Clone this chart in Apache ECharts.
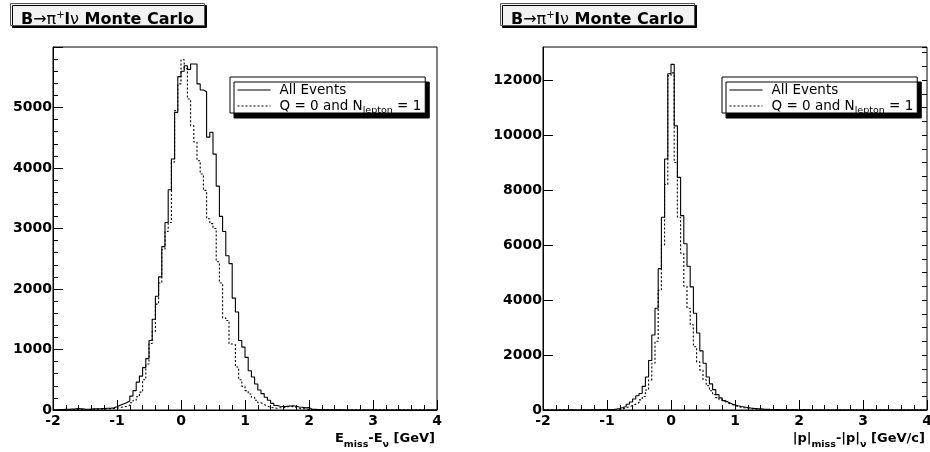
<!DOCTYPE html>
<html>
<head>
<meta charset="utf-8">
<script src="https://cdn.jsdelivr.net/npm/echarts@6/dist/echarts.min.js"></script>
<style>
html,body{margin:0;padding:0;background:#fff;}
#chart{width:930px;height:452px;}
</style>
</head>
<body>
<div id="chart"></div>
<script>
// Histogram binning (120 bins of 0.05 from -2 to 4)
const binLow = -2;
const binWidth = 0.05;

// Left panel: E_miss - E_nu
const eAll = [
  5, 8, 6, 10, 12, 15, 18, 22, 20, 15,
  12, 14, 18, 20, 22, 25, 28, 30, 35, 55,
  80, 100, 120, 150, 230, 320, 460, 560, 700, 850,
  1150, 1500, 1880, 2200, 2700, 3100, 3640, 4150, 4920, 5510,
  5600, 5690, 5630, 5720, 5720, 5390, 5290, 5260, 4510, 4590,
  4230, 3700, 3200, 2950, 2550, 2420, 1850, 1620, 1150, 1040,
  870, 650, 545, 430, 330, 270, 210, 160, 110, 75,
  62, 58, 60, 65, 70, 62, 50, 45, 35, 40,
  12, 10, 8, 6, 5, 4, 3, 3, 2, 2,
  1, 1, 0, 0, 0, 0, 0, 0, 0, 0,
  0, 0, 0, 0, 0, 0, 0, 0, 0, 0,
  0, 0, 0, 0, 0, 0, 0, 0, 0, 0
];
const eQ = [
  0, 0, 2, 3, 5, 5, 8, 10, 8, 6,
  8, 10, 12, 15, 15, 18, 20, 22, 25, 30,
  40, 50, 60, 80, 120, 160, 220, 295, 500, 760,
  1100, 1300, 1750, 2100, 2650, 2950, 3100, 4100, 4950, 5390,
  5790, 5640, 5140, 4700, 4430, 4120, 3900, 3630, 3160, 3080,
  3000, 2450, 2100, 1520, 1480, 1090, 1080, 710, 500, 390,
  320, 265, 210, 160, 120, 90, 65, 45, 35, 30,
  38, 35, 50, 60, 55, 45, 30, 25, 15, 10,
  5, 4, 3, 2, 2, 1, 1, 0, 0, 0,
  0, 0, 0, 0, 0, 0, 0, 0, 0, 0,
  0, 0, 0, 0, 0, 0, 0, 0, 0, 0,
  0, 0, 0, 0, 0, 0, 0, 0, 0, 0
];

// Right panel: |p|_miss - |p|_nu
const pAll = [
  0, 0, 0, 0, 0, 2, 0, 0, 3, 0,
  0, 2, 3, 0, 4, 5, 5, 6, 8, 10,
  15, 20, 35, 55, 90, 130, 210, 290, 400, 520,
  600, 860, 1200, 1800, 2725, 3700, 5140, 7010, 9126, 12230,
  12570, 10333, 8460, 7070, 6047, 5230, 4476, 3520, 2800, 2150,
  1700, 1200, 950, 740, 560, 440, 340, 280, 225, 185,
  155, 128, 108, 90, 72, 60, 50, 42, 32, 28,
  22, 18, 15, 12, 10, 8, 8, 6, 5, 5,
  4, 3, 3, 2, 2, 1, 1, 1, 0, 0,
  0, 0, 0, 0, 0, 0, 0, 0, 0, 0,
  0, 0, 0, 0, 0, 0, 0, 0, 0, 0,
  0, 0, 0, 0, 0, 0, 0, 0, 0, 0
];
const pQ = [
  0, 0, 0, 0, 0, 0, 0, 0, 0, 0,
  0, 0, 0, 0, 0, 2, 3, 4, 5, 6,
  10, 12, 18, 30, 50, 80, 120, 160, 210, 270,
  370, 490, 730, 1095, 1700, 2500, 4355, 6000, 8200, 12150,
  12260, 9000, 7010, 5700, 4500, 3700, 3100, 2300, 1750, 1450,
  1100, 880, 700, 560, 450, 370, 300, 250, 200, 160,
  125, 100, 80, 62, 48, 38, 30, 25, 20, 16,
  12, 10, 8, 8, 6, 5, 4, 4, 3, 2,
  2, 1, 1, 0, 0, 0, 0, 0, 0, 0,
  0, 0, 0, 0, 0, 0, 0, 0, 0, 0,
  0, 0, 0, 0, 0, 0, 0, 0, 0, 0,
  0, 0, 0, 0, 0, 0, 0, 0, 0, 0
];

const seriesNames = ['All Events', 'Q = 0 and N_lepton = 1'];
const xTicks = { min: -2, max: 4, interval: 1 };
const yLeft = { min: 0, max: 6000, interval: 1000 };
const yRight = { min: 0, max: 13200, interval: 2000, minor: 500 };

function histPoints(vals) {
  const pts = vals.map((v, i) => [binLow + i * binWidth, v]);
  pts.push([binLow + vals.length * binWidth, vals[vals.length - 1]]);
  return pts;
}

const FONT = 'DejaVu Sans';
const numRich = { n: { fontFamily: FONT, fontWeight: 'bold', fontSize: 14, color: '#000' } };
const labelStyle = { formatter: v => '{n|' + v + '}', rich: numRich };

function xAxisDef(grid, nameRich) {
  return {
    type: 'value', gridIndex: grid, min: xTicks.min, max: xTicks.max, interval: xTicks.interval,
    axisLine: { show: true, onZero: false, lineStyle: { color: '#000', width: 1 } },
    axisTick: { show: true, inside: true, length: 10, lineStyle: { color: '#000' } },
    minorTick: { show: true, splitNumber: 5, length: 5, lineStyle: { color: '#000' } },
    splitLine: { show: false },
    axisLabel: Object.assign({ margin: 4 }, labelStyle),
    name: nameRich,
    nameLocation: 'end',
    nameGap: -2,
    nameTextStyle: {
      align: 'right', verticalAlign: 'top', padding: [18, 0, 0, 0],
      rich: {
        t: { fontFamily: FONT, fontWeight: 'bold', fontSize: 13, color: '#000' },
        s: { fontFamily: FONT, fontWeight: 'bold', fontSize: 9.5, color: '#000', padding: [12, 0, 0, 0] }
      }
    }
  };
}

const legendRich = {
  t: { fontFamily: FONT, fontSize: 13.5, color: '#000' },
  s: { fontFamily: FONT, fontSize: 9.5, color: '#000', padding: [10, 0, 0, 0] }
};
function legendFmt(name) {
  if (name === seriesNames[1]) return '{t|Q = 0 and N}{s|lepton}{t| = 1}';
  return '{t|' + name + '}';
}
function legendDef(left) {
  return {
    show: true, left: left, top: 77, orient: 'vertical',
    data: seriesNames,
    itemWidth: 33, itemHeight: 14, itemGap: 2,
    padding: [6, 4, -3, 7],
    backgroundColor: '#fff', borderColor: '#000', borderWidth: 1, borderRadius: 0,
    shadowColor: '#000', shadowBlur: 0, shadowOffsetX: 4, shadowOffsetY: 5,
    itemStyle: { opacity: 0 },
    lineStyle: { width: 1 },
    selectedMode: false,
    formatter: legendFmt,
    textStyle: { padding: [0, 0, 0, 4], rich: legendRich }
  };
}

const titleRich = {
  b: { fontFamily: FONT, fontWeight: 'bold', fontSize: 16, color: '#000' },
  r: { fontFamily: FONT, fontWeight: 'normal', fontSize: 16, color: '#000' },
  sup: { fontFamily: FONT, fontWeight: 'normal', fontSize: 10, color: '#000', padding: [0, 0, 10, 0] }
};
const titleText = '{b|B}{r|\u2192\u03c0}{sup|+}{b|l}{r|\u03bd}{b| Monte Carlo}';
function titleDef(left) {
  return {
    text: titleText, left: left, top: 3,
    padding: [7, 11, -2, 11],
    backgroundColor: '#f2f2f2', borderColor: '#555', borderWidth: 1,
    shadowColor: '#000', shadowBlur: 0, shadowOffsetX: 2, shadowOffsetY: 2,
    textStyle: { rich: titleRich }
  };
}

function lineSeries(name, xi, yi, vals, dashed) {
  return {
    name: name, type: 'line', xAxisIndex: xi, yAxisIndex: yi,
    data: histPoints(vals), step: 'end', symbol: 'none', showSymbol: false,
    silent: true, clip: true,
    lineStyle: { color: '#000', width: 1.1, type: dashed ? [2, 2] : 'solid' },
    itemStyle: { color: '#000' }
  };
}

function yAxisCommon(grid, lim, opts) {
  return Object.assign({
    type: 'value', gridIndex: grid, min: lim.min, max: lim.max, interval: lim.interval,
    axisLine: { show: true, onZero: false, lineStyle: { color: '#000' } },
    axisTick: { show: true, inside: true, length: 10, lineStyle: { color: '#000' } },
    splitLine: { show: false },
    axisLabel: Object.assign({ margin: 1, showMaxLabel: false }, labelStyle)
  }, opts || {});
}

const gridBase = { top: 47, width: 384, height: 363, show: true, borderColor: '#000', borderWidth: 1, containLabel: false, outerBoundsMode: 'none' };

const chart = echarts.init(document.getElementById('chart'), null, { renderer: 'canvas' });
chart.setOption({
  animation: false,
  backgroundColor: '#fff',
  title: [titleDef(10), titleDef(500)],
  legend: [legendDef(230), legendDef(722)],
  grid: [
    Object.assign({ left: 53 }, gridBase),
    Object.assign({ left: 543 }, gridBase)
  ],
  xAxis: [
    xAxisDef(0, '{t|E}{s|miss}{t|-E}{s|\u03bd}{t| [GeV]}'),
    xAxisDef(1, '{t||p|}{s|miss}{t|-|p|}{s|\u03bd}{t| [GeV/c]}')
  ],
  yAxis: [
    yAxisCommon(0, yLeft, { minorTick: { show: true, splitNumber: 5, length: 5, lineStyle: { color: '#000' } } }),
    yAxisCommon(1, yRight),
    {
      type: 'value', gridIndex: 1, min: yRight.min, max: yRight.max, interval: yRight.minor,
      axisLine: { show: false, onZero: false },
      axisTick: { show: true, inside: true, length: 5, lineStyle: { color: '#000' } },
      splitLine: { show: false },
      axisLabel: { show: false }
    }
  ],
  series: [
    lineSeries(seriesNames[0], 0, 0, eAll, false),
    lineSeries(seriesNames[1], 0, 0, eQ, true),
    lineSeries(seriesNames[0], 1, 1, pAll, false),
    lineSeries(seriesNames[1], 1, 1, pQ, true)
  ]
});
</script>
</body>
</html>
